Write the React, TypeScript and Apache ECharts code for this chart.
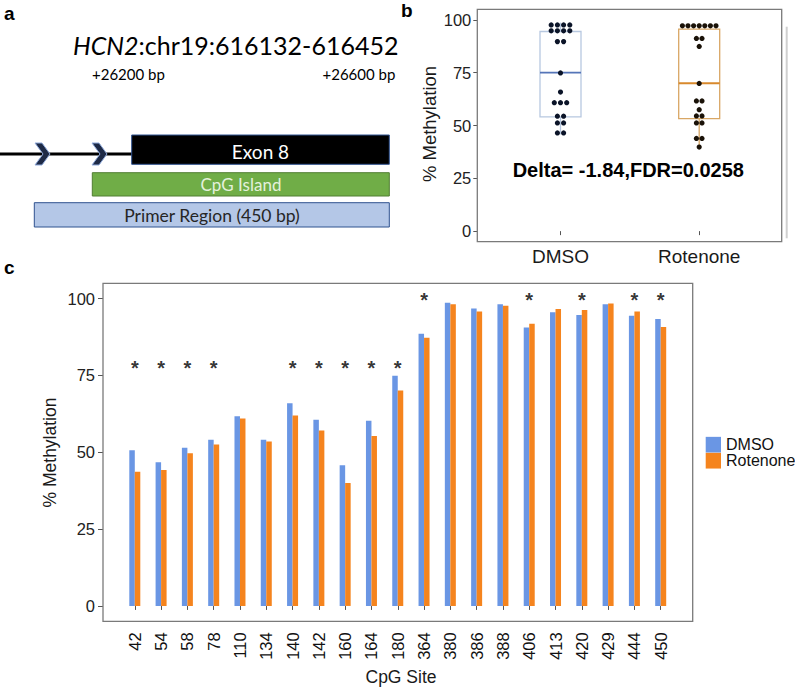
import React, { useEffect, useRef } from "react";
import * as echarts from "echarts";

// ---------- Panel c data ----------
const cpgSites = ["42","54","58","78","110","134","140","142","160","164","180","364","380","386","388","406","413","420","429","444","450"];
const dmsoValues = [50.7,46.8,51.5,54.1,61.7,54.1,66.0,60.6,45.8,60.3,74.9,88.6,98.7,96.8,98.2,90.6,95.6,94.7,98.2,94.4,93.4];
const rotenoneValues = [43.7,44.2,49.7,52.5,61.0,53.5,62.0,57.1,40.0,55.3,70.1,87.3,98.2,95.8,97.7,91.8,96.6,96.3,98.4,95.8,90.8];
const starLevels = [79.1,79.1,79.1,79.1,null,null,79.1,79.1,79.1,79.1,79.1,101.2,null,null,null,101.2,null,101.2,null,101.2,101.2];
const percentTicks = [0, 25, 50, 75, 100];

// ---------- Panel b data ----------
const groups = ["DMSO", "Rotenone"];
// [min, Q1, median, Q3, max]
const boxStats = [
  [45.8, 54.1, 75.0, 94.5, 98.7],
  [40.0, 53.3, 70.0, 95.6, 98.4],
];
const dmsoDotBins = [97.6, 94.8, 89.7, 74.9, 65.8, 60.8, 54.4, 51.2, 46.5];
const dmsoDotCounts = [4, 4, 2, 1, 1, 3, 2, 2, 2];
const rotDotBins = [97.2, 91.2, 87.4, 69.9, 61.6, 57.5, 54.5, 51.2, 43.9, 39.8];
const rotDotCounts = [7, 2, 1, 1, 2, 1, 2, 2, 2, 1];

const SANS = "'Liberation Sans', Arial, sans-serif";
const CAL = "Lato, 'Open Sans', sans-serif";

export default function App() {
  const ref = useRef<HTMLDivElement>(null);
  useEffect(() => {
    if (!ref.current) return;
    const chart = echarts.init(ref.current, null, { renderer: "svg" });

    const boxBorder = ["#B7C8E0", "#D9A765"];
    const boxMedian = ["#5575B8", "#D8892C"];

    const dotData: number[][] = [];
    dmsoDotBins.forEach((b, i) => dotData.push([0, b, dmsoDotCounts[i]]));
    rotDotBins.forEach((b, i) => dotData.push([1, b, rotDotCounts[i]]));

    const starData: number[][] = [];
    starLevels.forEach((v, i) => { if (v !== null) starData.push([i, v as number]); });

    const chevron = (x0: number) => ({
      type: "polygon",
      shape: { points: [[x0, 143], [x0 + 7, 143], [x0 + 15, 154], [x0 + 7, 165], [x0, 165], [x0 + 8, 154]] },
      style: { fill: "#1E2A46", stroke: "#8EA9DB", lineWidth: 1 },
      z: 10,
    });

    const option: any = {
      animation: false,
      backgroundColor: "#ffffff",
      textStyle: { fontFamily: SANS },
      legend: {
        data: ["DMSO", "Rotenone"],
        orient: "vertical",
        left: 705.7,
        top: 436.7,
        itemWidth: 15.3,
        itemHeight: 15.7,
        itemGap: 0,
        padding: 0,
        icon: "rect",
        selectedMode: false,
        textStyle: { fontSize: 16, color: "#111", lineHeight: 15.7, fontFamily: SANS },
      },
      grid: [
        { left: 491.15, top: 9.3, width: 277.4, height: 232.4 },
        { left: 121.65, top: 283.3, width: 552.2, height: 338 },
      ],
      xAxis: [
        {
          type: "category", gridIndex: 0, data: groups, boundaryGap: true,
          axisLine: { show: false },
          axisTick: { show: true, alignWithLabel: true, length: 4, lineStyle: { color: "#555" } },
          axisLabel: { fontSize: 19, color: "#1a1a1a", margin: 5, fontFamily: SANS },
        },
        {
          type: "category", gridIndex: 1, data: cpgSites, boundaryGap: true,
          axisLine: { show: false },
          axisTick: { show: true, alignWithLabel: true, length: 4, lineStyle: { color: "#555" } },
          axisLabel: { fontSize: 16.5, color: "#111", margin: 11, rotate: 90, interval: 0, fontFamily: SANS },
        },
      ],
      yAxis: [
        {
          type: "value", gridIndex: 0, min: -5, max: 105, offset: 13.85,
          axisLine: { show: false },
          splitLine: { show: false },
          axisTick: { show: true, length: 4, customValues: percentTicks, lineStyle: { color: "#555" } },
          axisLabel: { fontSize: 16.5, color: "#222", margin: 6, customValues: percentTicks, fontFamily: SANS },
        },
        {
          type: "value", gridIndex: 1, min: -5, max: 105, offset: 18.65,
          axisLine: { show: false },
          splitLine: { show: false },
          axisTick: { show: true, length: 5, customValues: percentTicks, lineStyle: { color: "#555" } },
          axisLabel: { fontSize: 16.5, color: "#222", margin: 8, customValues: percentTicks, fontFamily: SANS },
        },
      ],
      series: [
        {
          name: "DMSO", type: "bar", xAxisIndex: 1, yAxisIndex: 1,
          data: dmsoValues, barWidth: 5.5, barGap: "0%",
          itemStyle: { color: "#6A96E4" },
        },
        {
          name: "Rotenone", type: "bar", xAxisIndex: 1, yAxisIndex: 1,
          data: rotenoneValues, barWidth: 5.5, barGap: "0%",
          itemStyle: { color: "#F5841E" },
        },
        {
          name: "stars", type: "scatter", xAxisIndex: 1, yAxisIndex: 1,
          data: starData, symbol: "circle", symbolSize: 1,
          itemStyle: { color: "rgba(255,255,255,0)" },
          label: {
            show: true, position: "inside", formatter: "*", fontSize: 20, fontWeight: "bold",
            color: "#000", offset: [0, 5], fontFamily: SANS,
          },
        },
        {
          name: "box", type: "custom", xAxisIndex: 0, yAxisIndex: 0,
          data: boxStats.map((s, i) => [i, ...s]),
          renderItem: (params: any, api: any) => {
            const i = api.value(0);
            const pMin = api.coord([i, api.value(1)]);
            const pQ1 = api.coord([i, api.value(2)]);
            const pMed = api.coord([i, api.value(3)]);
            const pQ3 = api.coord([i, api.value(4)]);
            const pMax = api.coord([i, api.value(5)]);
            const cx = pMed[0];
            const half = 20.5;
            const bc = boxBorder[i];
            return {
              type: "group",
              children: [
                { type: "line", shape: { x1: cx, y1: pQ3[1], x2: cx, y2: pMax[1] }, style: { stroke: bc, lineWidth: 1.3 } },
                { type: "line", shape: { x1: cx, y1: pQ1[1], x2: cx, y2: pMin[1] }, style: { stroke: bc, lineWidth: 1.3 } },
                { type: "rect", shape: { x: cx - half, y: pQ3[1], width: 2 * half, height: pQ1[1] - pQ3[1] }, style: { fill: "#fff", stroke: bc, lineWidth: 1.3 } },
                { type: "line", shape: { x1: cx - half, y1: pMed[1], x2: cx + half, y2: pMed[1] }, style: { stroke: boxMedian[i], lineWidth: 1.8 } },
              ],
            };
          },
        },
        {
          name: "dots", type: "custom", xAxisIndex: 0, yAxisIndex: 0,
          data: dotData, z: 5,
          renderItem: (params: any, api: any) => {
            const i = api.value(0);
            const n = api.value(2);
            const p = api.coord([i, api.value(1)]);
            const spacing = i === 0 ? 6.2 : 5.6;
            const children: any[] = [];
            for (let k = 0; k < n; k++) {
              children.push({
                type: "circle",
                shape: { cx: p[0] + (k - (n - 1) / 2) * spacing, cy: p[1], r: 2.6 },
                style: { fill: i === 0 ? "#0B1428" : "#1a1208" },
              });
            }
            return { type: "group", children };
          },
        },
      ],
      graphic: [
        // panel labels
        { type: "text", x: 4, y: 4, style: { text: "a", font: `bold 19px ${SANS}`, fill: "#000" } },
        { type: "text", x: 401, y: 1, style: { text: "b", font: `bold 19px ${SANS}`, fill: "#000" } },
        { type: "text", x: 4, y: 258, style: { text: "c", font: `bold 19px ${SANS}`, fill: "#000" } },
        // panel a
        {
          type: "text", x: 73, y: 45,
          style: {
            text: "{i|HCN2}:chr19:616132-616452",
            rich: { i: { fontStyle: "italic", fontSize: 25, fontFamily: CAL, fill: "#000" } },
            font: `25px ${CAL}`, fill: "#000", verticalAlign: "middle", align: "left",
          },
        },
        { type: "text", x: 92, y: 74, style: { text: "+26200 bp", font: `15px ${CAL}`, fill: "#000", verticalAlign: "middle" } },
        { type: "text", x: 322.5, y: 74, style: { text: "+26600 bp", font: `15px ${CAL}`, fill: "#000", verticalAlign: "middle" } },
        { type: "line", shape: { x1: 0, y1: 154, x2: 133, y2: 154 }, style: { stroke: "#000", lineWidth: 3 } },
        chevron(35),
        chevron(92),
        { type: "rect", shape: { x: 131.7, y: 135, width: 257.6, height: 29.3 }, style: { fill: "#000", stroke: "#2F528F", lineWidth: 1 } },
        { type: "text", x: 260.5, y: 151, style: { text: "Exon 8", font: `19px ${CAL}`, fill: "#fff", align: "center", verticalAlign: "middle" } },
        { type: "rect", shape: { x: 92.3, y: 172.7, width: 297, height: 23.3 }, style: { fill: "#70AD47", stroke: "#507E32", lineWidth: 1 } },
        { type: "text", x: 241, y: 184.5, style: { text: "CpG Island", font: `17px ${CAL}`, fill: "#E4F1DC", align: "center", verticalAlign: "middle" } },
        { type: "rect", shape: { x: 34.3, y: 202.7, width: 355, height: 24.3 }, style: { fill: "#B4C7E7", stroke: "#2F528F", lineWidth: 1 } },
        { type: "text", x: 212, y: 215.5, style: { text: "Primer Region (450 bp)", font: `17.5px ${CAL}`, fill: "#262626", align: "center", verticalAlign: "middle" } },
        // panel b frame & texts
        { type: "rect", shape: { x: 477.3, y: 9.3, width: 304.4, height: 232.4 }, style: { fill: "none", stroke: "#7a7a7a", lineWidth: 1.3 }, z: 20 },
        { type: "line", shape: { x1: 786.7, y1: 26.7, x2: 786.7, y2: 238.3 }, style: { stroke: "#cfcfcf", lineWidth: 2 } },
        { type: "text", x: 628.3, y: 170, style: { text: "Delta= -1.84,FDR=0.0258", font: `bold 20px ${SANS}`, fill: "#000", align: "center", verticalAlign: "middle" }, z: 20 },
        { type: "text", x: 429, y: 124, rotation: Math.PI / 2, style: { text: "% Methylation", font: `18.5px ${SANS}`, fill: "#1a1a1a", align: "center", verticalAlign: "middle" } },
        // panel c frame & texts
        { type: "rect", shape: { x: 103, y: 283.3, width: 589.7, height: 338 }, style: { fill: "none", stroke: "#7a7a7a", lineWidth: 1.3 }, z: 20 },
        { type: "text", x: 49.5, y: 452.5, rotation: Math.PI / 2, style: { text: "% Methylation", font: `17.5px ${SANS}`, fill: "#1a1a1a", align: "center", verticalAlign: "middle" } },
        { type: "text", x: 401, y: 677, style: { text: "CpG Site", font: `17.5px ${SANS}`, fill: "#1a1a1a", align: "center", verticalAlign: "middle" } },
      ],
    };
    chart.setOption(option);
    return () => chart.dispose();
  }, []);
  return (
    <div
      ref={ref}
      style={{ position: "absolute", left: 0, top: 0, width: 795, height: 687, background: "#fff" }}
    />
  );
}
